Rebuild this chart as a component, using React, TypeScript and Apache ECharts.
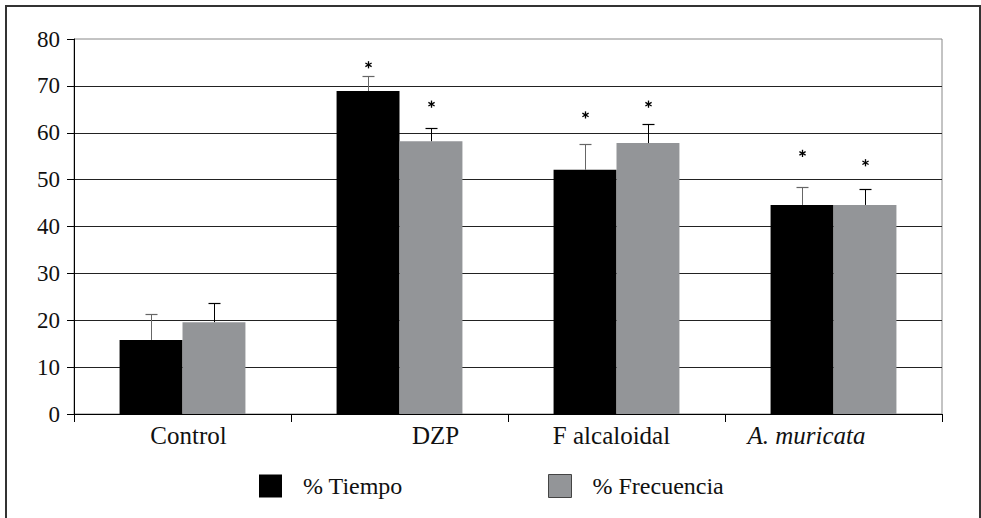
import React, { useEffect, useRef } from "react";
import * as echarts from "echarts";

const categories = ["Control", "DZP", "F alcaloidal", "A. muricata"];
const tiempo = [15.8, 68.9, 52.1, 44.6];
const tiempoErr = [5.5, 3.3, 5.4, 3.9];
const tiempoStar = [null, 74.5, 63.8, 55.6];
const frecuencia = [19.6, 58.2, 57.8, 44.6];
const frecuenciaErr = [4.0, 2.9, 4.1, 3.5];
const frecuenciaStar = [null, 66.1, 66.1, 53.6];
const yTicks = { min: 0, max: 80, interval: 10 };

const FONT = "Liberation Serif";
const GAP = 0.42;

function makeErrSeries(name: string, vals: number[], errs: number[], stars: (number | null)[], side: number, color: string) {
  return {
    type: "custom",
    name,
    z: 5,
    data: vals.map((v, i) => [i, v + errs[i], v, stars[i] == null ? -1 : stars[i]]),
    renderItem: (params: any, api: any) => {
      const idx = api.value(0);
      const hi = api.value(1);
      const val = api.value(2);
      const star = api.value(3);
      const base = api.coord([idx, val]);
      const top = api.coord([idx, hi]);
      const band = api.size([1, 0])[0];
      const bw = (band * (1 - GAP)) / 2;
      const cx = Math.round(base[0] + (side * bw) / 2) + 0.5;
      const ty = Math.round(top[1]) + 0.5;
      const children: any[] = [
        { type: "line", shape: { x1: cx, y1: base[1], x2: cx, y2: ty }, style: { stroke: color, lineWidth: 1 } },
        { type: "line", shape: { x1: cx - 6, y1: ty, x2: cx + 6, y2: ty }, style: { stroke: color, lineWidth: 1.2 } },
      ];
      if (star > 0) {
        const sp = api.coord([idx, star]);
        const sy = sp[1];
        const r = 3.6;
        for (let k = 0; k < 3; k++) {
          const a = (Math.PI / 3) * k + Math.PI / 2;
          children.push({
            type: "line",
            shape: { x1: cx - r * Math.cos(a), y1: sy - r * Math.sin(a), x2: cx + r * Math.cos(a), y2: sy + r * Math.sin(a) },
            style: { stroke: "#000", lineWidth: 1.3 },
          });
        }
      }
      return { type: "group", children };
    },
  };
}

export default function App() {
  const ref = useRef<HTMLDivElement>(null);
  useEffect(() => {
    document.body.style.margin = "0";
    const chart = echarts.init(ref.current!, null, { renderer: "svg" });
    const labelShift = [12, 72, -10, -54];
    const rich: any = {};
    categories.forEach((c, i) => {
      const s = labelShift[i];
      rich["l" + i] = {
        fontFamily: FONT,
        fontSize: 25,
        color: "#111",
        fontStyle: i === 3 ? "italic" : "normal",
        padding: s >= 0 ? [0, 0, 0, s] : [0, -s, 0, 0],
      };
    });
    const legendText = { fontFamily: FONT, fontSize: 24, color: "#111", padding: [0, 0, 0, 16] };
    chart.setOption({
      animation: false,
      backgroundColor: "#fff",
      textStyle: { fontFamily: FONT },
      grid: { left: 74, right: 39, top: 39, bottom: 104, show: true, borderColor: "#888", borderWidth: 1 },
      legend: [
        {
          data: [{ name: "% Tiempo" }],
          left: 259,
          top: 474,
          padding: 0,
          itemWidth: 23,
          itemHeight: 23,
          icon: "rect",
          textStyle: legendText,
        },
        {
          data: [{ name: "% Frecuencia", itemStyle: { borderColor: "#444", borderWidth: 1 } }],
          left: 548,
          top: 474,
          padding: 0,
          itemWidth: 23,
          itemHeight: 23,
          icon: "rect",
          textStyle: legendText,
        },
      ],
      xAxis: {
        type: "category",
        data: categories,
        axisLine: { lineStyle: { color: "#000", width: 1 } },
        axisTick: { show: true, length: 8, interval: 0, lineStyle: { color: "#000" } },
        axisLabel: {
          interval: 0,
          margin: 9,
          fontFamily: FONT,
          fontSize: 25,
          formatter: (v: string) => `{l${categories.indexOf(v)}|${v}}`,
          rich,
        },
      },
      yAxis: {
        type: "value",
        min: yTicks.min,
        max: yTicks.max,
        interval: yTicks.interval,
        axisLine: { show: true, lineStyle: { color: "#000", width: 1 } },
        axisTick: { show: true, length: 7, lineStyle: { color: "#000" } },
        axisLabel: { margin: 14, fontFamily: FONT, fontSize: 23, color: "#111" },
        splitLine: { show: true, showMaxLine: false, lineStyle: { color: "#222", width: 1 } },
      },
      graphic: [
        {
          type: "rect",
          shape: { x: 6, y: 6, width: 974, height: 540 },
          style: { fill: "none", stroke: "#333", lineWidth: 2 },
          silent: true,
        },
      ],
      series: [
        {
          type: "bar",
          name: "% Tiempo",
          data: tiempo,
          barGap: "0%",
          barCategoryGap: "42%",
          itemStyle: { color: "#000" },
        },
        {
          type: "bar",
          name: "% Frecuencia",
          data: frecuencia,
          barGap: "0%",
          barCategoryGap: "42%",
          itemStyle: { color: "#939598" },
        },
        makeErrSeries("errT", tiempo, tiempoErr, tiempoStar, -1, "#666"),
        makeErrSeries("errF", frecuencia, frecuenciaErr, frecuenciaStar, 1, "#000"),
      ],
    });
    return () => chart.dispose();
  }, []);
  return <div ref={ref} style={{ width: 981, height: 518 }} />;
}
